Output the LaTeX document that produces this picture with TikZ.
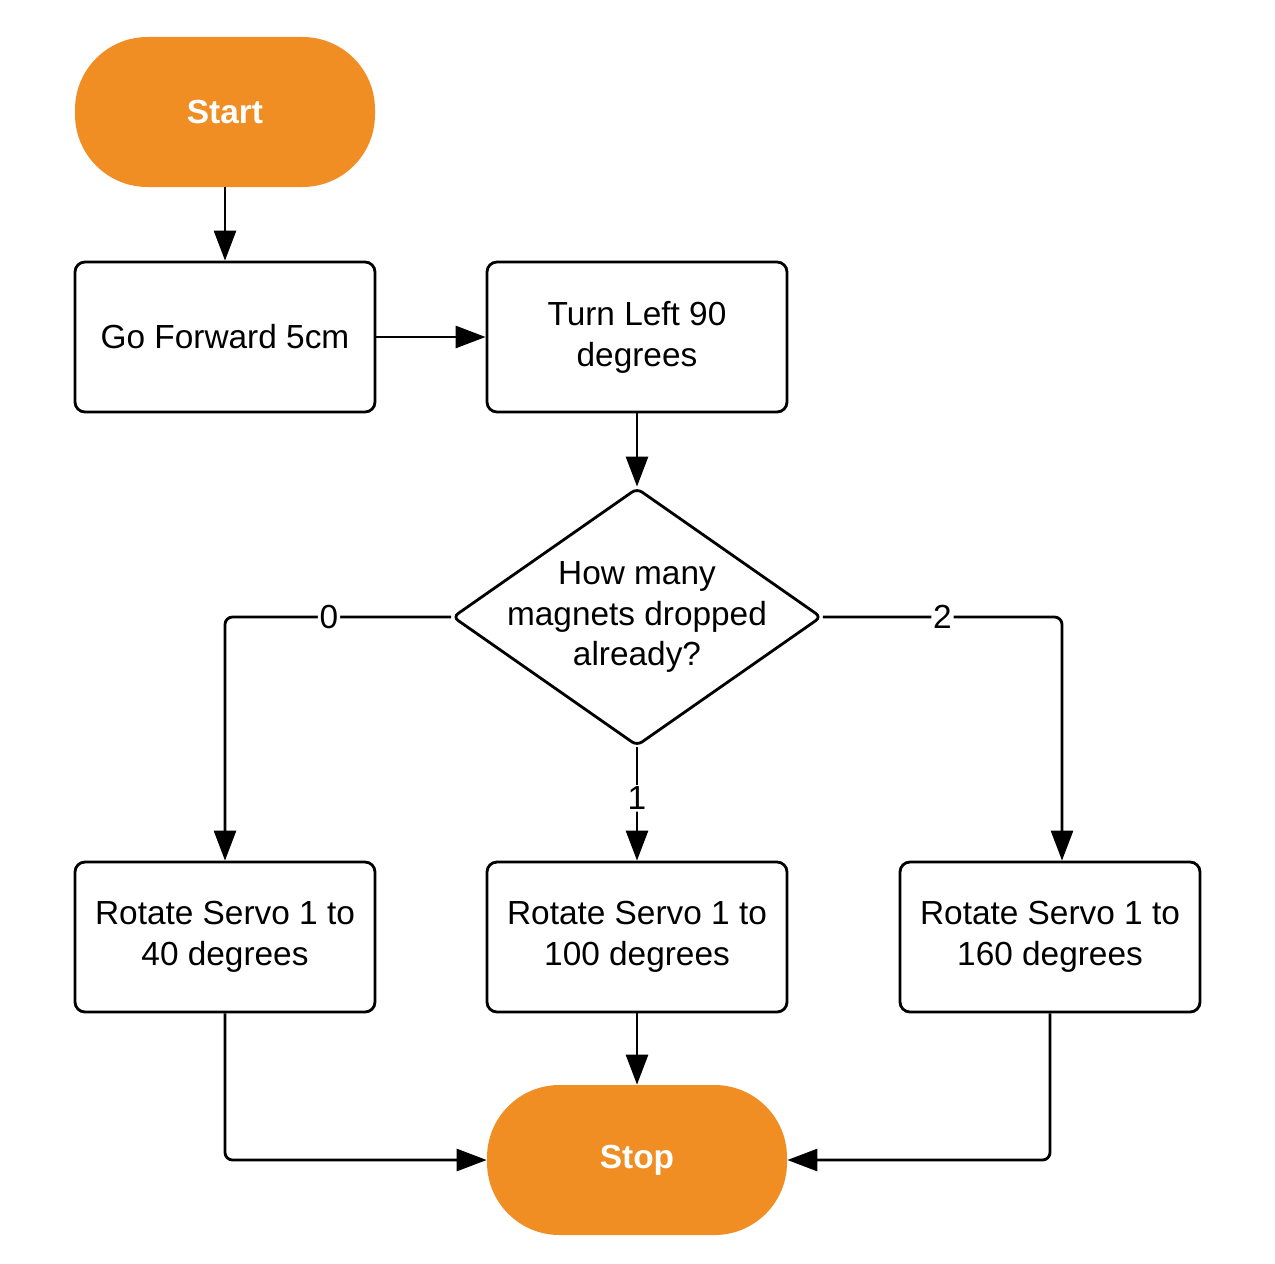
\documentclass[tikz,border=0pt]{standalone}
\usepackage{fontspec}
\setmainfont{Liberation Sans}
\usetikzlibrary{arrows.meta,shapes.geometric}
\definecolor{flowOrange}{RGB}{240,142,36}
\begin{document}
\begin{tikzpicture}[
    node distance=4.5cm,
    font=\fontsize{19}{23.3}\selectfont,
    term/.style={rectangle, rounded corners=1.45cm, fill=flowOrange, text=white, font=\fontsize{19}{23.3}\selectfont\bfseries, minimum width=6cm, minimum height=3cm},
    proc/.style={rectangle, draw, line width=1.6pt, rounded corners=0.2cm, minimum width=6cm, minimum height=3cm, align=center},
    dec/.style={diamond, draw, line width=1.6pt, rounded corners=0.12cm, minimum width=7.38cm, minimum height=5.16cm, inner sep=0pt},
    arr/.style={-{Triangle[length=0.6cm, width=0.44cm]}, line width=1.6pt, rounded corners=0.15cm},
    lbl/.style={fill=white, inner sep=1pt}
]
    \useasboundingbox (0,0) rectangle (25.5,-25.26);

    % start and first steps
    \node[term] (start) at (4.5,-2.24) {Start};
    \node[proc] (go) [below of=start] {Go Forward 5cm};
    \node[proc] (turn) [right of=go, xshift=3.74cm] {Turn Left 90\\degrees};

    % decision
    \node[dec] (ask) [below of=turn, yshift=-1.1cm] {};
    \node[align=center] (asktext) at (ask) {How many\\magnets dropped\\already?};

    % servo steps
    \node[proc] (servoB) [below of=ask, yshift=-1.9cm] {Rotate Servo 1 to\\100 degrees};
    \node[proc] (servoA) [left of=servoB, xshift=-3.74cm] {Rotate Servo 1 to\\40 degrees};
    \node[proc] (servoC) [right of=servoB, xshift=3.76cm] {Rotate Servo 1 to\\160 degrees};
    \coordinate (servoCin) at ([xshift=0.24cm]servoC.north);

    % end
    \node[term] (stop) [below of=servoB, yshift=0.04cm] {Stop};

    % connectors
    \draw[arr] (start) -- (go);
    \draw[arr] (go) -- (turn);
    \draw[arr] (turn) -- (ask);
    \draw[arr] (ask.west) -| node[lbl, pos=0.27] {0} (servoA.north);
    \draw[arr] (ask) -- node[lbl, pos=0.45] {1} (servoB);
    \draw[arr] (ask.east) -| node[lbl, pos=0.25] {2} (servoCin);
    \draw[arr] (servoA.south) |- (stop.west);
    \draw[arr] (servoB) -- (stop);
    \draw[arr] (servoC.south) |- (stop.east);
\end{tikzpicture}
\end{document}
